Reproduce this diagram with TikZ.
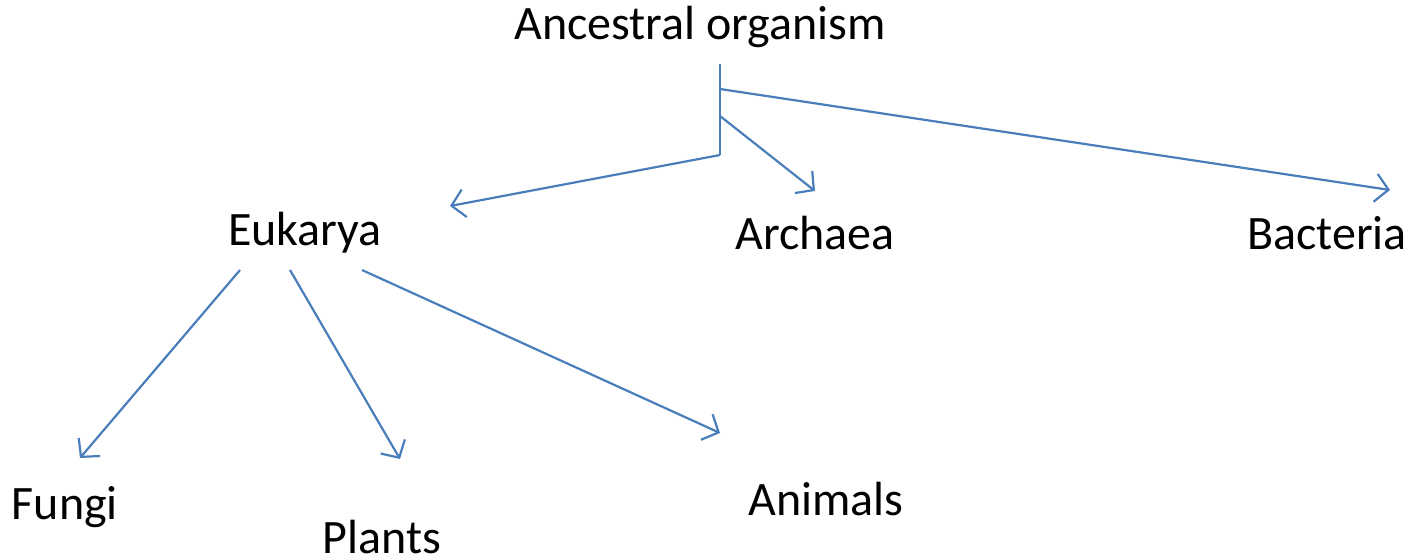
\documentclass[tikz,border=0pt]{standalone}
\usepackage{fontspec}
\setmainfont{Carlito}
\usetikzlibrary{arrows.meta}
\definecolor{lineblue}{RGB}{74,126,187}
\begin{document}
\begin{tikzpicture}[x=1pt,y=-1pt,
  lbl/.style={inner sep=0pt,font=\fontsize{48}{52}\selectfont},
  conn/.style={draw=lineblue,line width=2.2pt},
  arr/.style={conn,-{Straight Barb[length=13pt,width=28pt,line width=2.2pt]}}]
\useasboundingbox (0,0) rectangle (1410,558);
\node[lbl] (anc) at (700,27) {Ancestral organism};
\node[lbl] (euk) at (305,233) {Eukarya};
\node[lbl] (arc) at (815,233) {Archaea};
\node[lbl] (bac) at (1327,233) {Bacteria};
\node[lbl] (fun) at (65,507) {Fungi};
\node[lbl] (pla) at (382,537) {Plants};
\node[lbl] (ani) at (826,499) {Animals};
\coordinate (top) at (720,64);
\coordinate (jb) at (720,89);
\coordinate (ja) at (720,116);
\coordinate (je) at (720,155);
\coordinate (te) at (450,206);
\coordinate (ta) at (815,191);
\coordinate (tb) at (1390,190);
\coordinate (sf) at (240,270);
\coordinate (sp) at (290,270);
\coordinate (sa) at (362,270);
\coordinate (tf) at (80,458);
\coordinate (tp) at (400,459);
\coordinate (tn) at (720,433);
\draw[conn] (top) -- (je);
\draw[arr] (je) -- (te);
\draw[arr] (ja) -- (ta);
\draw[arr] (jb) -- (tb);
\draw[arr] (sf) -- (tf);
\draw[arr] (sp) -- (tp);
\draw[arr] (sa) -- (tn);
\end{tikzpicture}
\end{document}
